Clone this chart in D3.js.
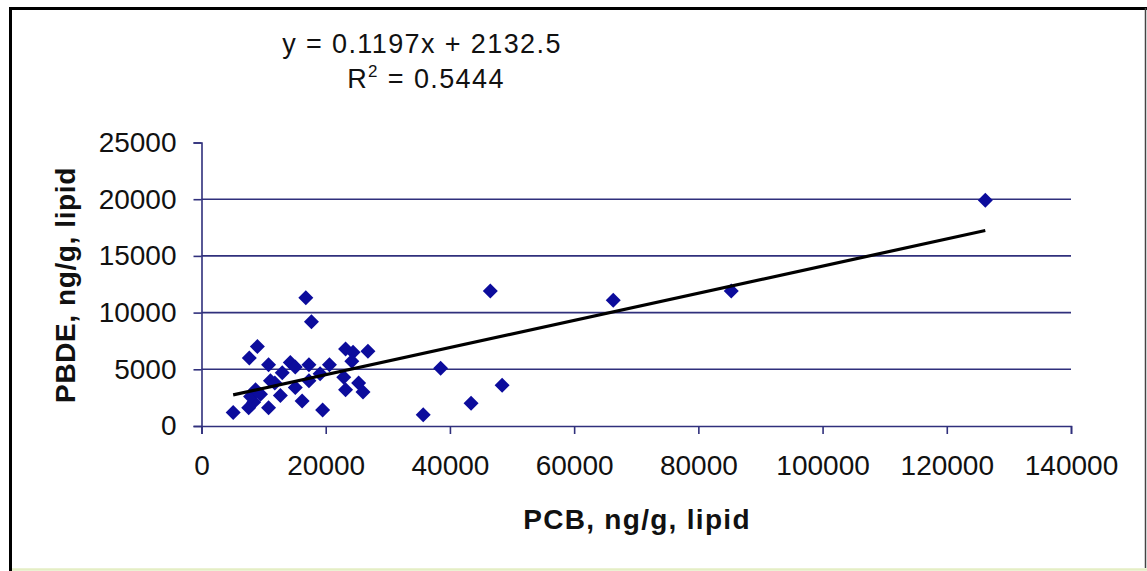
<!DOCTYPE html>
<html>
<head>
<meta charset="utf-8">
<script src="https://cdn.jsdelivr.net/npm/d3@7"></script>
<style>
  html, body { margin: 0; padding: 0; background: #fff; }
  svg { display: block; }
  text { font-family: "Liberation Sans", Arial, sans-serif; fill: #111; }
</style>
</head>
<body>
<svg id="chart" width="1147" height="571"></svg>
<script>
// ---- data ----
const pcb = [5100, 7600, 8400, 7900, 8700, 7700, 9000, 10800, 10800, 11100,
             11800, 12700, 14300, 15100, 15100, 16200, 16800, 17700, 17300, 17300,
             19100, 19500, 20600, 23200, 24400, 26800, 24200, 22900, 23200, 25300,
             26000, 9500, 13000, 35700, 38500, 43400, 46500, 48400, 66300, 85300,
             126200];
const pbde = [1200, 1600, 2100, 2600, 3200, 6000, 7000, 5400, 1600, 4000,
              3800, 2700, 5600, 5200, 3400, 2200, 11300, 9200, 5400, 4000,
              4600, 1400, 5400, 6800, 6500, 6600, 5700, 4300, 3200, 3800,
              3000, 2800, 4700, 1000, 5100, 2000, 11900, 3600, 11100, 11900,
              19900];
const xTicks = [0, 20000, 40000, 60000, 80000, 100000, 120000, 140000];
const yTicks = [0, 5000, 10000, 15000, 20000, 25000];
const slope = 0.1197, intercept = 2132.5;
const eqLine1 = "y = 0.1197x + 2132.5";
const r2Value = "0.5444";
const xTitle = "PCB, ng/g, lipid";
const yTitle = "PBDE, ng/g, lipid";

// ---- drawing ----
const svg = d3.select("#chart");
const x = d3.scaleLinear().domain([0, 140000]).range([201.5, 1071]);
const y = d3.scaleLinear().domain([0, 25000]).range([426, 142.5]);
const gridColor = "#30307c";

// outer frame
svg.append("line").attr("x1", 9).attr("x2", 1147).attr("y1", 8.5).attr("y2", 8.5)
  .attr("stroke", "#000").attr("stroke-width", 3);
svg.append("line").attr("x1", 10.5).attr("x2", 10.5).attr("y1", 7).attr("y2", 571)
  .attr("stroke", "#000").attr("stroke-width", 3);
svg.append("line").attr("x1", 1145.5).attr("x2", 1145.5).attr("y1", 8).attr("y2", 568)
  .attr("stroke", "#444").attr("stroke-width", 1.5);
svg.append("line").attr("x1", 12).attr("x2", 1147).attr("y1", 569.5).attr("y2", 569.5)
  .attr("stroke", "#e4eec4").attr("stroke-width", 2.5);

// gridlines
svg.append("g").selectAll("line")
  .data(yTicks.filter(d => d > 0 && d < 25000))
  .join("line")
  .attr("x1", x(0)).attr("x2", x(140000))
  .attr("y1", d => y(d)).attr("y2", d => y(d))
  .attr("stroke", gridColor).attr("stroke-width", 1.6);

// axes
const xAxis = d3.axisBottom(x).tickValues(xTicks).tickSize(8).tickPadding(21)
  .tickFormat(d3.format("d"));
const gx = svg.append("g").attr("transform", `translate(0,${y(0)})`).call(xAxis);
gx.select(".domain").attr("stroke", gridColor).attr("stroke-width", 1.6);
gx.selectAll(".tick line").attr("stroke", gridColor).attr("stroke-width", 1.6);
gx.selectAll(".tick text").attr("font-size", 28).attr("fill", "#111")
  .attr("font-family", "Liberation Sans, Arial, sans-serif");

const yAxis = d3.axisLeft(y).tickValues(yTicks).tickSize(8).tickPadding(17)
  .tickFormat(d3.format("d"));
const gy = svg.append("g").attr("transform", `translate(${x(0)},0)`).call(yAxis);
gy.select(".domain").attr("stroke", gridColor).attr("stroke-width", 1.6);
gy.selectAll(".tick line").attr("stroke", gridColor).attr("stroke-width", 1.6);
gy.selectAll(".tick text").attr("font-size", 28).attr("fill", "#111")
  .attr("font-family", "Liberation Sans, Arial, sans-serif");

// points
const pts = pcb.map((v, i) => ({ x: v, y: pbde[i] }));
const r = 7.5;
svg.append("g").selectAll("path")
  .data(pts)
  .join("path")
  .attr("transform", d => `translate(${x(d.x)},${y(d.y)})`)
  .attr("d", `M0,${-r}L${r},0L0,${r}L${-r},0Z`)
  .attr("fill", "#0c0c9c");

// trend line
const xmin = d3.min(pcb), xmax = d3.max(pcb);
svg.append("line")
  .attr("x1", x(xmin)).attr("y1", y(slope * xmin + intercept))
  .attr("x2", x(xmax)).attr("y2", y(slope * xmax + intercept))
  .attr("stroke", "#000").attr("stroke-width", 3.2);

// equation text
svg.append("text").attr("x", 422).attr("y", 53).attr("text-anchor", "middle")
  .attr("font-size", 27).attr("letter-spacing", 1.4).text(eqLine1);
const r2 = svg.append("text").attr("x", 426).attr("y", 88).attr("text-anchor", "middle")
  .attr("font-size", 27).attr("letter-spacing", 1.4);
r2.append("tspan").text("R");
r2.append("tspan").attr("font-size", 17).attr("dy", -11).text("2");
r2.append("tspan").attr("dy", 11).text(" = " + r2Value);

// axis titles
svg.append("text").attr("x", 637).attr("y", 529).attr("text-anchor", "middle")
  .attr("font-size", 28).attr("font-weight", "bold").attr("letter-spacing", 1.3)
  .text(xTitle);
svg.append("text").attr("transform", "translate(75,285) rotate(-90)")
  .attr("text-anchor", "middle")
  .attr("font-size", 28).attr("font-weight", "bold").attr("letter-spacing", 0.6)
  .text(yTitle);
</script>
</body>
</html>
